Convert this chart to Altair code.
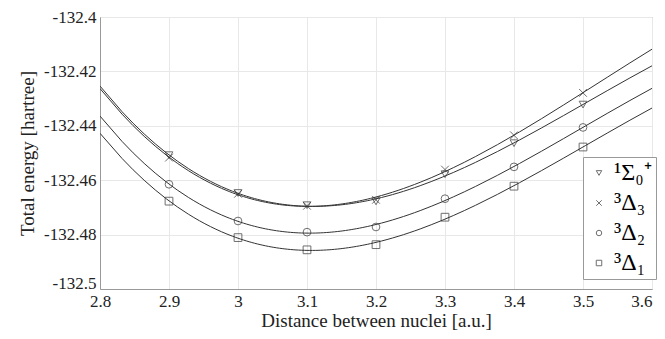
import altair as alt
import pandas as pd

x_vals = [2.9, 3.0, 3.1, 3.2, 3.3, 3.4, 3.5]
states = ["¹Σ₀⁺", "³Δ₃", "³Δ₂", "³Δ₁"]
sigma0 = [-132.4508, -132.4647, -132.4692, -132.4678, -132.4578, -132.4464, -132.4322]
delta3 = [-132.4517, -132.4650, -132.4694, -132.4672, -132.4561, -132.4435, -132.4279]
delta2 = [-132.4615, -132.4750, -132.4791, -132.4772, -132.4668, -132.4551, -132.4406]
delta1 = [-132.4677, -132.4811, -132.4856, -132.4837, -132.4736, -132.4622, -132.4478]
shapes = ["triangle-down", "M-1,-1L1,1M1,-1L-1,1", "circle", "square"]

rows = []
for s, vals in zip(states, [sigma0, delta3, delta2, delta1]):
    for xv, yv in zip(x_vals, vals):
        rows.append({"state": s, "x": xv, "y": yv})
df = pd.DataFrame(rows)

FONT = "Liberation Serif"
INK = "#333333"

xs = alt.Scale(domain=[2.8, 3.6], nice=False, zero=False)
ys = alt.Scale(domain=[-132.5, -132.4], nice=False, zero=False)

xax = alt.Axis(values=[2.8, 2.9, 3.0, 3.1, 3.2, 3.3, 3.4, 3.5, 3.6],
               labelExpr="toString(round(datum.value*10)/10)",
               labelFont=FONT, titleFont=FONT, labelFlush=False,
               labelAlign={"condition": {"test": "datum.value > 3.55", "value": "right"},
                           "value": "center"},
               title="Distance between nuclei [a.u.]")
yax = alt.Axis(values=[-132.5, -132.48, -132.46, -132.44, -132.42, -132.4],
               labelExpr="toString(round(datum.value*100)/100)",
               labelFont=FONT, titleFont=FONT, labelFlush=False,
               labelOffset={"condition": {"test": "datum.value < -132.49", "value": -6},
                            "value": 0},
               title="Total energy [hartree]")

base = alt.Chart(df)

lines = base.transform_regression(
    "x", "y", groupby=["state"], method="poly", order=3, extent=[2.8, 3.6]
).mark_line(color=INK, strokeWidth=1, clip=True).encode(
    x=alt.X("x:Q", scale=xs, axis=xax),
    y=alt.Y("y:Q", scale=ys, axis=yax),
    detail="state:N",
)

points = base.mark_point(filled=False, color=INK, strokeWidth=1, size=60).encode(
    x=alt.X("x:Q", scale=xs, axis=xax),
    y=alt.Y("y:Q", scale=ys, axis=yax),
    shape=alt.Shape("state:N", scale=alt.Scale(domain=states, range=shapes),
                    legend=alt.Legend(title=None, orient="none", legendX=483, legendY=140,
                                      labelFontSize=24, labelFont=FONT, symbolSize=30,
                                      symbolStrokeColor=INK, symbolStrokeWidth=1,
                                      symbolFillColor="transparent",
                                      strokeColor="#999999", fillColor="white",
                                      padding=4, rowPadding=6, labelOffset=3)),
)

chart = (lines + points).properties(
    width=552, height=272,
    padding={"left": 92, "top": 9, "right": 5, "bottom": 42},
    autosize="none",
).configure(font=FONT).configure_view(stroke="#999999").configure_axis(
    labelFont=FONT, titleFont=FONT, labelFontSize=17, titleFontSize=19,
    titleFontWeight="normal", labelColor="#222222", titleColor="#222222",
    gridColor="#e8e8e8", domainColor="#999999", tickColor="#999999",
    ticks=False, labelPadding=4,
).configure_axisX(titlePadding=2).configure_axisY(titlePadding=6).configure_legend(
    labelFont=FONT
)

chart.save("out.html", embed_options={"renderer": "svg", "actions": False})
